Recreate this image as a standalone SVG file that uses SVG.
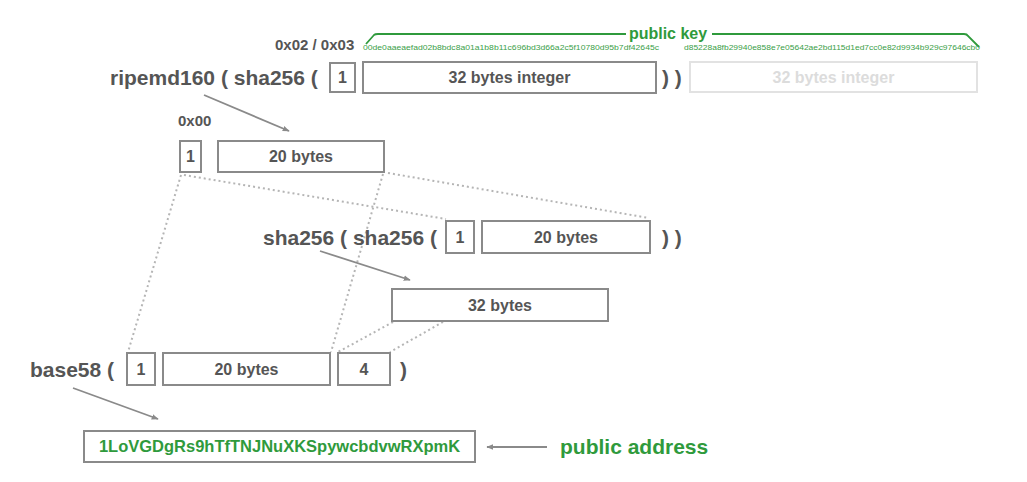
<svg xmlns="http://www.w3.org/2000/svg" width="1027" height="482" viewBox="0 0 1027 482">
<defs>
<style>
.bx{fill:#fff;stroke:#8a8a8a;stroke-width:2}
.lb{fill:#fff;stroke:#e2e2e2;stroke-width:2}
.t{font-family:"Liberation Sans",Arial,sans-serif;font-weight:bold;fill:#555}
.big{font-size:21px}
.mid{font-size:16px}
.sm{font-size:15px}
.g{fill:#2f9a3c}
.hex{font-family:"Liberation Sans",Arial,sans-serif;font-size:7px;fill:#3aa048}
.dot{fill:none;stroke:#b5b5b5;stroke-width:2;stroke-dasharray:2 3}
.ar{fill:none;stroke:#8a8a8a;stroke-width:1.8}
</style>
<marker id="ah" viewBox="0 0 10 10" refX="9" refY="5" markerWidth="7" markerHeight="7" orient="auto" markerUnits="userSpaceOnUse">
<path d="M0,1 L10,5 L0,9 Z" fill="#8a8a8a"/>
</marker>
</defs>
<rect width="1027" height="482" fill="#fff"/>

<g id="connectors">
<line class="dot" x1="181" y1="175" x2="128" y2="352"/>
<line class="dot" x1="383" y1="174" x2="331" y2="352"/>
<line class="dot" x1="184" y1="175" x2="446" y2="219"/>
<line class="dot" x1="388" y1="173" x2="649" y2="218"/>
<line class="dot" x1="393" y1="322" x2="338" y2="352"/>
<line class="dot" x1="443" y1="322" x2="390" y2="352"/>
<line class="ar" x1="204" y1="95" x2="289" y2="131" marker-end="url(#ah)"/>
<line class="ar" x1="320" y1="251" x2="410" y2="280" marker-end="url(#ah)"/>
<line class="ar" x1="73" y1="388" x2="158" y2="419" marker-end="url(#ah)"/>
<line class="ar" x1="547" y1="447" x2="487" y2="447" marker-end="url(#ah)"/>
</g>

<g id="pubkey">
<text class="t sm" x="275" y="50">0x02 / 0x03</text>
<path d="M366,44 L374,35 Q375,34 378,34 L626,34 M712,34 L964,34 Q967,34 968,36 L979,47" fill="none" stroke="#2f9a3c" stroke-width="1.8"/>
<text class="t mid g" x="668" y="39" text-anchor="middle">public key</text>
<text class="hex" x="363" y="50" textLength="296" lengthAdjust="spacingAndGlyphs">00de0aaeaefad02b8bdc8a01a1b8b11c696bd3d66a2c5f10780d95b7df42645c</text>
<text class="hex" x="684" y="50" textLength="296" lengthAdjust="spacingAndGlyphs">d85228a8fb29940e858e7e05642ae2bd115d1ed7cc0e82d9934b929c97646cb0</text>
</g>

<g id="row1">
<text class="t big" x="110" y="85">ripemd160 ( sha256 (</text>
<rect class="bx" x="330" y="63" width="25" height="29"/>
<text class="t mid" x="342.5" y="83" text-anchor="middle">1</text>
<rect class="bx" x="363" y="62" width="293" height="31"/>
<text class="t mid" x="509.5" y="83" text-anchor="middle">32 bytes integer</text>
<text class="t big" x="662" y="85">) )</text>
<rect class="lb" x="690" y="62" width="287" height="30"/>
<text class="t mid" x="833.5" y="83" text-anchor="middle" style="fill:#dcdcdc">32 bytes integer</text>
</g>

<g id="row2">
<text class="t sm" x="178" y="126">0x00</text>
<rect class="bx" x="180" y="141" width="21" height="31"/>
<text class="t mid" x="190.5" y="162" text-anchor="middle">1</text>
<rect class="bx" x="218" y="141" width="166" height="31"/>
<text class="t mid" x="301" y="162" text-anchor="middle">20 bytes</text>
</g>

<g id="row3">
<text class="t big" x="263" y="245">sha256 ( sha256 (</text>
<rect class="bx" x="446" y="221" width="28" height="32"/>
<text class="t mid" x="460" y="243" text-anchor="middle">1</text>
<rect class="bx" x="482" y="221" width="168" height="32"/>
<text class="t mid" x="566" y="243" text-anchor="middle">20 bytes</text>
<text class="t big" x="662" y="245">) )</text>
</g>

<g id="row4">
<rect class="bx" x="392" y="289" width="216" height="32"/>
<text class="t mid" x="500" y="311" text-anchor="middle">32 bytes</text>
</g>

<g id="row5">
<text class="t big" x="30" y="377">base58 (</text>
<rect class="bx" x="127" y="353" width="28" height="32"/>
<text class="t mid" x="141" y="375" text-anchor="middle">1</text>
<rect class="bx" x="163" y="353" width="167" height="32"/>
<text class="t mid" x="246.5" y="375" text-anchor="middle">20 bytes</text>
<rect class="bx" x="338" y="353" width="52" height="32"/>
<text class="t mid" x="364" y="375" text-anchor="middle">4</text>
<text class="t big" x="400" y="377">)</text>
</g>

<g id="address">
<rect class="bx" x="84" y="431" width="391" height="31"/>
<text class="t g" style="font-size:16.5px" x="279.5" y="452" text-anchor="middle">1LoVGDgRs9hTfTNJNuXKSpywcbdvwRXpmK</text>
<text class="t big g" x="560" y="454">public address</text>
</g>
</svg>
